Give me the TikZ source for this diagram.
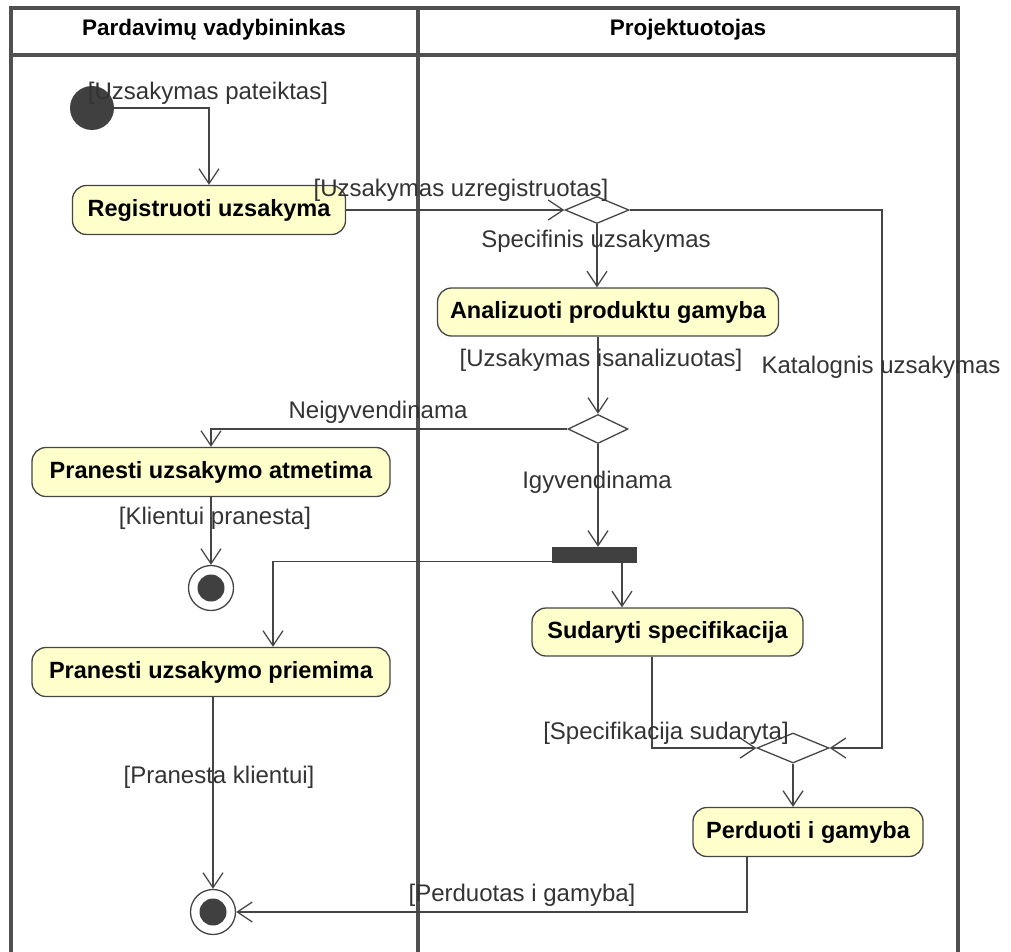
\documentclass[tikz,border=0pt]{standalone}
\usepackage{fontspec}
\setmainfont{Liberation Sans}
\usetikzlibrary{shapes.geometric,arrows.meta}
\definecolor{lanegray}{HTML}{505050}
\definecolor{edgegray}{HTML}{454545}
\definecolor{actfill}{HTML}{FFFFCC}
\definecolor{labelgray}{HTML}{333333}
\definecolor{dotgray}{HTML}{404040}
\begin{document}
\begin{tikzpicture}[x=1pt,y=-1pt,
  lane/.style={draw=lanegray,line width=3.2pt},
  lanehead/.style={font=\fontsize{22.5}{27}\selectfont\bfseries,text=black,inner sep=0pt},
  action/.style={draw=edgegray,fill=actfill,line width=1.3pt,rounded corners=14pt,
    minimum height=49pt,inner sep=0pt,font=\fontsize{23.5}{28}\selectfont\bfseries},
  decision/.style={diamond,draw=edgegray,fill=white,line width=1.3pt,inner sep=0pt},
  startdot/.style={circle,fill=dotgray,minimum size=44pt,inner sep=0pt},
  enddot/.style={circle,draw=edgegray,fill=white,line width=1.3pt,minimum size=45pt,inner sep=0pt,
    path picture={\fill[dotgray] (path picture bounding box.center) circle[radius=13.5pt];}},
  forkbar/.style={rectangle,fill=dotgray,minimum width=85pt,minimum height=16pt,inner sep=0pt},
  flow/.style={draw=edgegray,line width=1.3pt,-{Straight Barb[length=15pt,width=20pt]}},
  guard/.style={font=\fontsize{24}{28}\selectfont,text=labelgray,inner sep=0pt}
]
\useasboundingbox (0,0) rectangle (1011,952);

% swimlanes
\draw[lane] (11,952) -- (11,8) -- (958,8) -- (958,952);
\draw[lane] (418,8) -- (418,952);
\draw[lane] (11,55) -- (958,55);
\node[lanehead] (laneA) at (214,30) {Pardavimų vadybininkas};
\node[lanehead] (laneB) at (688,30) {Projektuotojas};

% activity nodes
\node[startdot] (init) at (92,108) {};
\node[action,minimum width=273pt] (reg) at (209,210) {Registruoti uzsakyma};
\node[decision,minimum width=64pt,minimum height=27pt] (d1) at (597,210) {};
\node[action,minimum width=341pt,minimum height=48pt] (ana) at (608,312) {Analizuoti produktu gamyba};
\node[decision,minimum width=60pt,minimum height=29pt] (d2) at (598,429) {};
\node[action,minimum width=358pt] (atm) at (211,472) {Pranesti uzsakymo atmetima};
\node[enddot] (fin1) at (211,588) {};
\node[forkbar] (fork) at (594.5,555) {};
\node[action,minimum width=358pt] (prm) at (211,672) {Pranesti uzsakymo priemima};
\node[action,minimum width=271pt,minimum height=48pt] (sud) at (667.5,632) {Sudaryti specifikacija};
\node[decision,minimum width=72pt,minimum height=30pt] (d3) at (793,748) {};
\node[action,minimum width=230pt] (per) at (808,832) {Perduoti i gamyba};
\node[enddot] (fin2) at (213,912) {};
\coordinate (katTurn) at (882,210);

% control flows
\draw[flow] (init.east) -| (reg.north);
\draw[flow] (reg.east |- d1.west) -- (d1.west);
\draw[flow] (d1.south) -- (d1.south |- ana.north);
\draw[flow] (d1.east) -- (katTurn) |- (d3.east);
\draw[flow] (ana.south -| d2.north) -- (d2.north);
\draw[flow] (d2.west) -| (atm.north);
\draw[flow] (atm.south) -- (fin1.north);
\draw[flow] (d2.south) -- (d2.south |- fork.north);
\draw[flow] ([yshift=2pt]fork.south west) -| ([xshift=62pt]prm.north);
\draw[flow] ([xshift=27.5pt]fork.south) -- ([xshift=27.5pt]fork.south |- sud.north);
\draw[flow] ([xshift=-15.5pt]sud.south) |- (d3.west);
\draw[flow] (d3.south) -- (d3.south |- per.north);
\draw[flow] ([xshift=-61pt]per.south) |- (fin2.east);
\draw[flow] (prm.south -| fin2.north) -- (fin2.north);

% guards and branch names
\node[guard] (g1) at (208,93) {[Uzsakymas pateiktas]};
\node[guard] (g2) at (461,190) {[Uzsakymas uzregistruotas]};
\node[guard] (g3) at (596,241) {Specifinis uzsakymas};
\node[guard] (g4) at (601,360) {[Uzsakymas isanalizuotas]};
\node[guard] (g5) at (881,367) {Katalognis uzsakymas};
\node[guard] (g6) at (378,412) {Neigyvendinama};
\node[guard] (g7) at (597,482) {Igyvendinama};
\node[guard] (g8) at (215,518) {[Klientui pranesta]};
\node[guard] (g9) at (666,733) {[Specifikacija sudaryta]};
\node[guard] (g10) at (219,777) {[Pranesta klientui]};
\node[guard] (g11) at (522,895) {[Perduotas i gamyba]};
\end{tikzpicture}
\end{document}
